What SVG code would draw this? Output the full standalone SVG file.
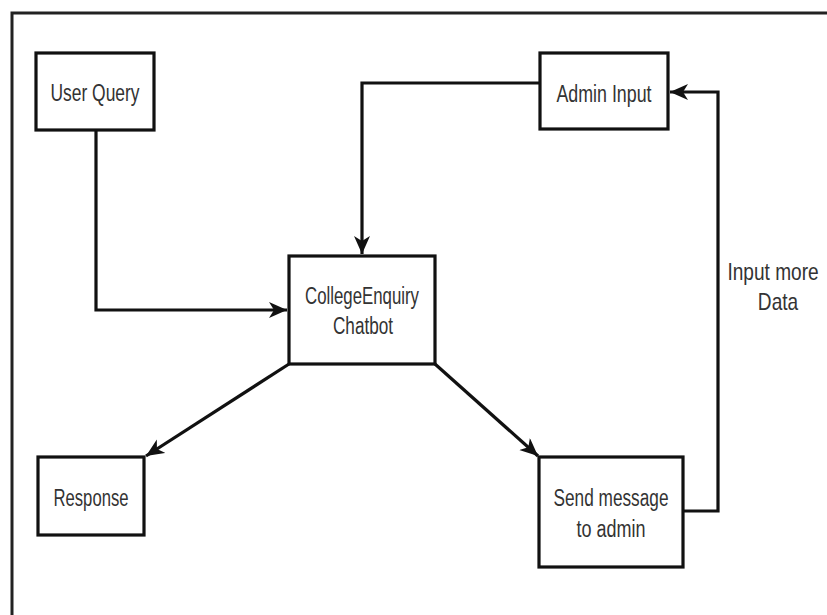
<svg xmlns="http://www.w3.org/2000/svg" width="827" height="615" viewBox="0 0 827 615">
<style>
.box{fill:#fff;stroke:#111;stroke-width:3.2}
.lbl{font-family:"Liberation Sans",Arial,sans-serif;font-size:23px;fill:#333;text-anchor:middle}
.edge{fill:none;stroke:#111;stroke-width:3.2}
</style>
<defs>
<marker id="arr" markerUnits="userSpaceOnUse" markerWidth="20" markerHeight="18" refX="18" refY="8" orient="auto">
<path d="M0,0 L18,8 L0,16 L5,8 z" fill="#111"/>
</marker>
</defs>
<rect width="827" height="615" fill="#fff"/>
<rect x="12" y="13" width="840" height="640" fill="none" stroke="#222" stroke-width="3"/>
<g id="connectors">
<polyline class="edge" points="96,130 96,310 287,310" marker-end="url(#arr)"/>
<polyline class="edge" points="540,83 362,83 362,254" marker-end="url(#arr)"/>
<line class="edge" x1="289" y1="364" x2="146" y2="456" marker-end="url(#arr)"/>
<line class="edge" x1="435" y1="364" x2="538" y2="456" marker-end="url(#arr)"/>
<polyline class="edge" points="683,511 718,511 718,92 670,92" marker-end="url(#arr)"/>
<text class="lbl" transform="translate(773,280) scale(0.83,1)">Input more</text>
<text class="lbl" transform="translate(778,310) scale(0.83,1)">Data</text>
</g>
<g id="user-query">
<rect class="box" x="36" y="53" width="118" height="77"/>
<text class="lbl" x="95" y="101" textLength="89" lengthAdjust="spacingAndGlyphs">User Query</text>
</g>
<g id="admin-input">
<rect class="box" x="540" y="53" width="128" height="76"/>
<text class="lbl" x="604" y="102" textLength="95" lengthAdjust="spacingAndGlyphs">Admin Input</text>
</g>
<g id="chatbot">
<rect class="box" x="289" y="256" width="146" height="108"/>
<text class="lbl" x="362" y="304" textLength="114" lengthAdjust="spacingAndGlyphs">CollegeEnquiry</text>
<text class="lbl" x="363" y="334" textLength="60" lengthAdjust="spacingAndGlyphs">Chatbot</text>
</g>
<g id="response">
<rect class="box" x="38" y="457" width="106" height="78"/>
<text class="lbl" x="91" y="506" textLength="75" lengthAdjust="spacingAndGlyphs">Response</text>
</g>
<g id="send-message">
<rect class="box" x="539" y="457" width="144" height="110"/>
<text class="lbl" x="611" y="506" textLength="115" lengthAdjust="spacingAndGlyphs">Send message</text>
<text class="lbl" x="611" y="537" textLength="69" lengthAdjust="spacingAndGlyphs">to admin</text>
</g>
</svg>
